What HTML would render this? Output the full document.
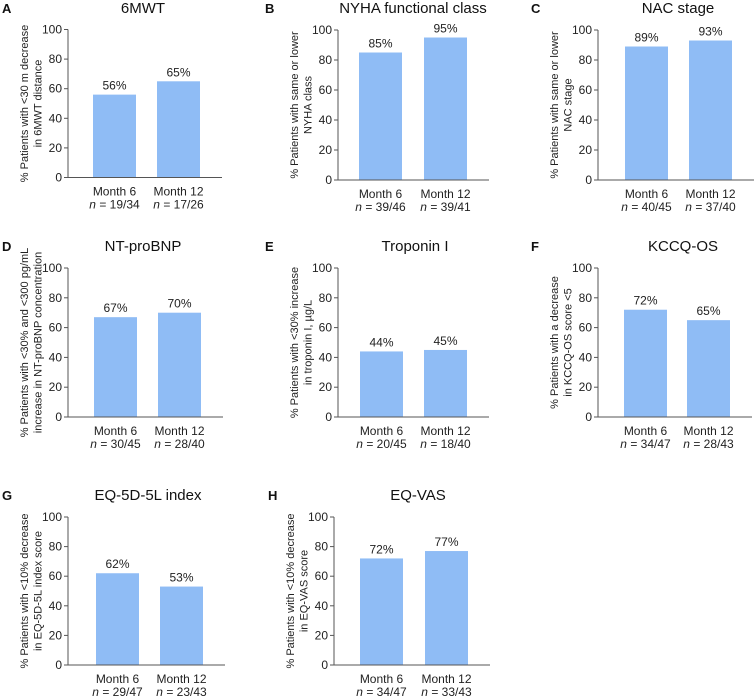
<!DOCTYPE html>
<html><head><meta charset="utf-8"><style>
html,body{margin:0;padding:0;background:#fff;}
svg{display:block;font-family:"Liberation Sans",Arial,sans-serif;}
</style></head><body>
<svg id="chart" width="755" height="698" viewBox="0 0 755 698" xmlns="http://www.w3.org/2000/svg"></svg>
<script>
const panelLetters = ["A","B","C","D","E","F","G","H"];
const panelTitles = ["6MWT","NYHA functional class","NAC stage","NT-proBNP","Troponin I","KCCQ-OS","EQ-5D-5L index","EQ-VAS"];
const yTitles = [
  ["% Patients with <30 m decrease","in 6MWT distance"],
  ["% Patients with same or lower","NYHA class"],
  ["% Patients with same or lower","NAC stage"],
  ["% Patients with <30% and <300 pg/mL","increase in NT-proBNP concentration"],
  ["% Patients with <30% increase","in troponin I, µg/L"],
  ["% Patients with a decrease","in KCCQ-OS score <5"],
  ["% Patients with <10% decrease","in EQ-5D-5L index score"],
  ["% Patients with <10% decrease","in EQ-VAS score"]
];
const categories = ["Month 6","Month 12"];
const month6Values = [56,85,89,67,44,72,62,72];
const month12Values = [65,95,93,70,45,65,53,77];
const month6N = ["19/34","39/46","40/45","30/45","20/45","34/47","29/47","34/47"];
const month12N = ["17/26","39/41","37/40","28/40","18/40","28/43","23/43","33/43"];
const yTicks = [0,20,40,60,80,100];

// layout (not data)
const layout = [
  {ax:68,y0:177.5,y1:29.5,b1:93,b2:157,letterX:2,titleX:143},
  {ax:338,y0:180,y1:30,b1:359,b2:424,letterX:265,titleX:413},
  {ax:598,y0:180,y1:30,b1:625,b2:689,letterX:531,titleX:678},
  {ax:68,y0:417,y1:268,b1:94,b2:158,letterX:2,titleX:143},
  {ax:338,y0:417,y1:268,b1:360,b2:424,letterX:265,titleX:415},
  {ax:598,y0:417,y1:268,b1:624,b2:687,letterX:531,titleX:683},
  {ax:68,y0:665,y1:517,b1:96,b2:160,letterX:2,titleX:148},
  {ax:334,y0:665,y1:517,b1:360,b2:425,letterX:268,titleX:418}
];
const titleYs=[8,8,8,246,246,246,495,495];
const NS="http://www.w3.org/2000/svg";
const svg=document.getElementById("chart");
function mk(tag,attrs,parent){const e=document.createElementNS(NS,tag);for(const k in attrs)e.setAttribute(k,attrs[k]);(parent||svg).appendChild(e);return e;}
const BW=43;
for(let i=0;i<8;i++){
  const L=layout[i];
  const yScale=v=>L.y0-(v/100)*(L.y0-L.y1);
  const g=mk("g",{});
  
  
  const lt=mk("text",{x:L.letterX,y:titleYs[i]+5,"font-size":"13","font-weight":"bold",fill:"#111"},g);
  lt.textContent=panelLetters[i];
  
  
  const tt=mk("text",{x:L.titleX,y:titleYs[i]+5,"font-size":"15","text-anchor":"middle",fill:"#111"},g);
  tt.textContent=panelTitles[i];
  
  
  const vals=[month6Values[i],month12Values[i]];
  const ns=[month6N[i],month12N[i]];
  const xs=[L.b1,L.b2];
  for(let j=0;j<2;j++){
    const y=yScale(vals[j]);
    const r=mk("rect",{x:xs[j],y:y,width:BW,height:L.y0-y,fill:"#8fbcf5"},g);
    
    
    const vl=mk("text",{x:xs[j]+BW/2,y:y-5,"font-size":"12","text-anchor":"middle",fill:"#222"},g);
    vl.textContent=vals[j]+"%";
    
    
    const cl=mk("text",{x:xs[j]+BW/2,y:L.y0+18,"font-size":"12","text-anchor":"middle",fill:"#222"},g);
    cl.textContent=categories[j];
    
    
    const nl=mk("text",{x:xs[j]+BW/2,y:L.y0+31,"font-size":"12","text-anchor":"middle",fill:"#222"},g);
    const it=mk("tspan",{"font-style":"italic"},nl); it.textContent="n";
    const rt=mk("tspan",{},nl); rt.textContent=" = "+ns[j];
    
    
  }
  const ya=mk("line",{x1:L.ax,y1:L.y1,x2:L.ax,y2:L.y0,stroke:"#555","stroke-width":"1"},g);
  
  
  const xa=mk("line",{x1:L.ax-4,y1:L.y0,x2:L.b2+BW+22,y2:L.y0,stroke:"#555","stroke-width":"1"},g);
  
  
  for(const t of yTicks){
    const y=yScale(t);
    mk("line",{x1:L.ax-4,y1:y,x2:L.ax,y2:y,stroke:"#555"},g);
    const tl=mk("text",{x:L.ax-6,y:y+4,"font-size":"12","text-anchor":"end",fill:"#222"},g);
    tl.textContent=t;
    
    
  }
  const cy=(L.y0+L.y1)/2, cx=L.ax-38;
  const yt=mk("text",{transform:`translate(${cx},${cy}) rotate(-90)`,"font-size":"11","text-anchor":"middle",fill:"#222"},g);
  const t1=mk("tspan",{x:0,y:-2},yt); t1.textContent=yTitles[i][0];
  const t2=mk("tspan",{x:0,y:11.5},yt); t2.textContent=yTitles[i][1];
  
  
}
</script>
</body></html>
